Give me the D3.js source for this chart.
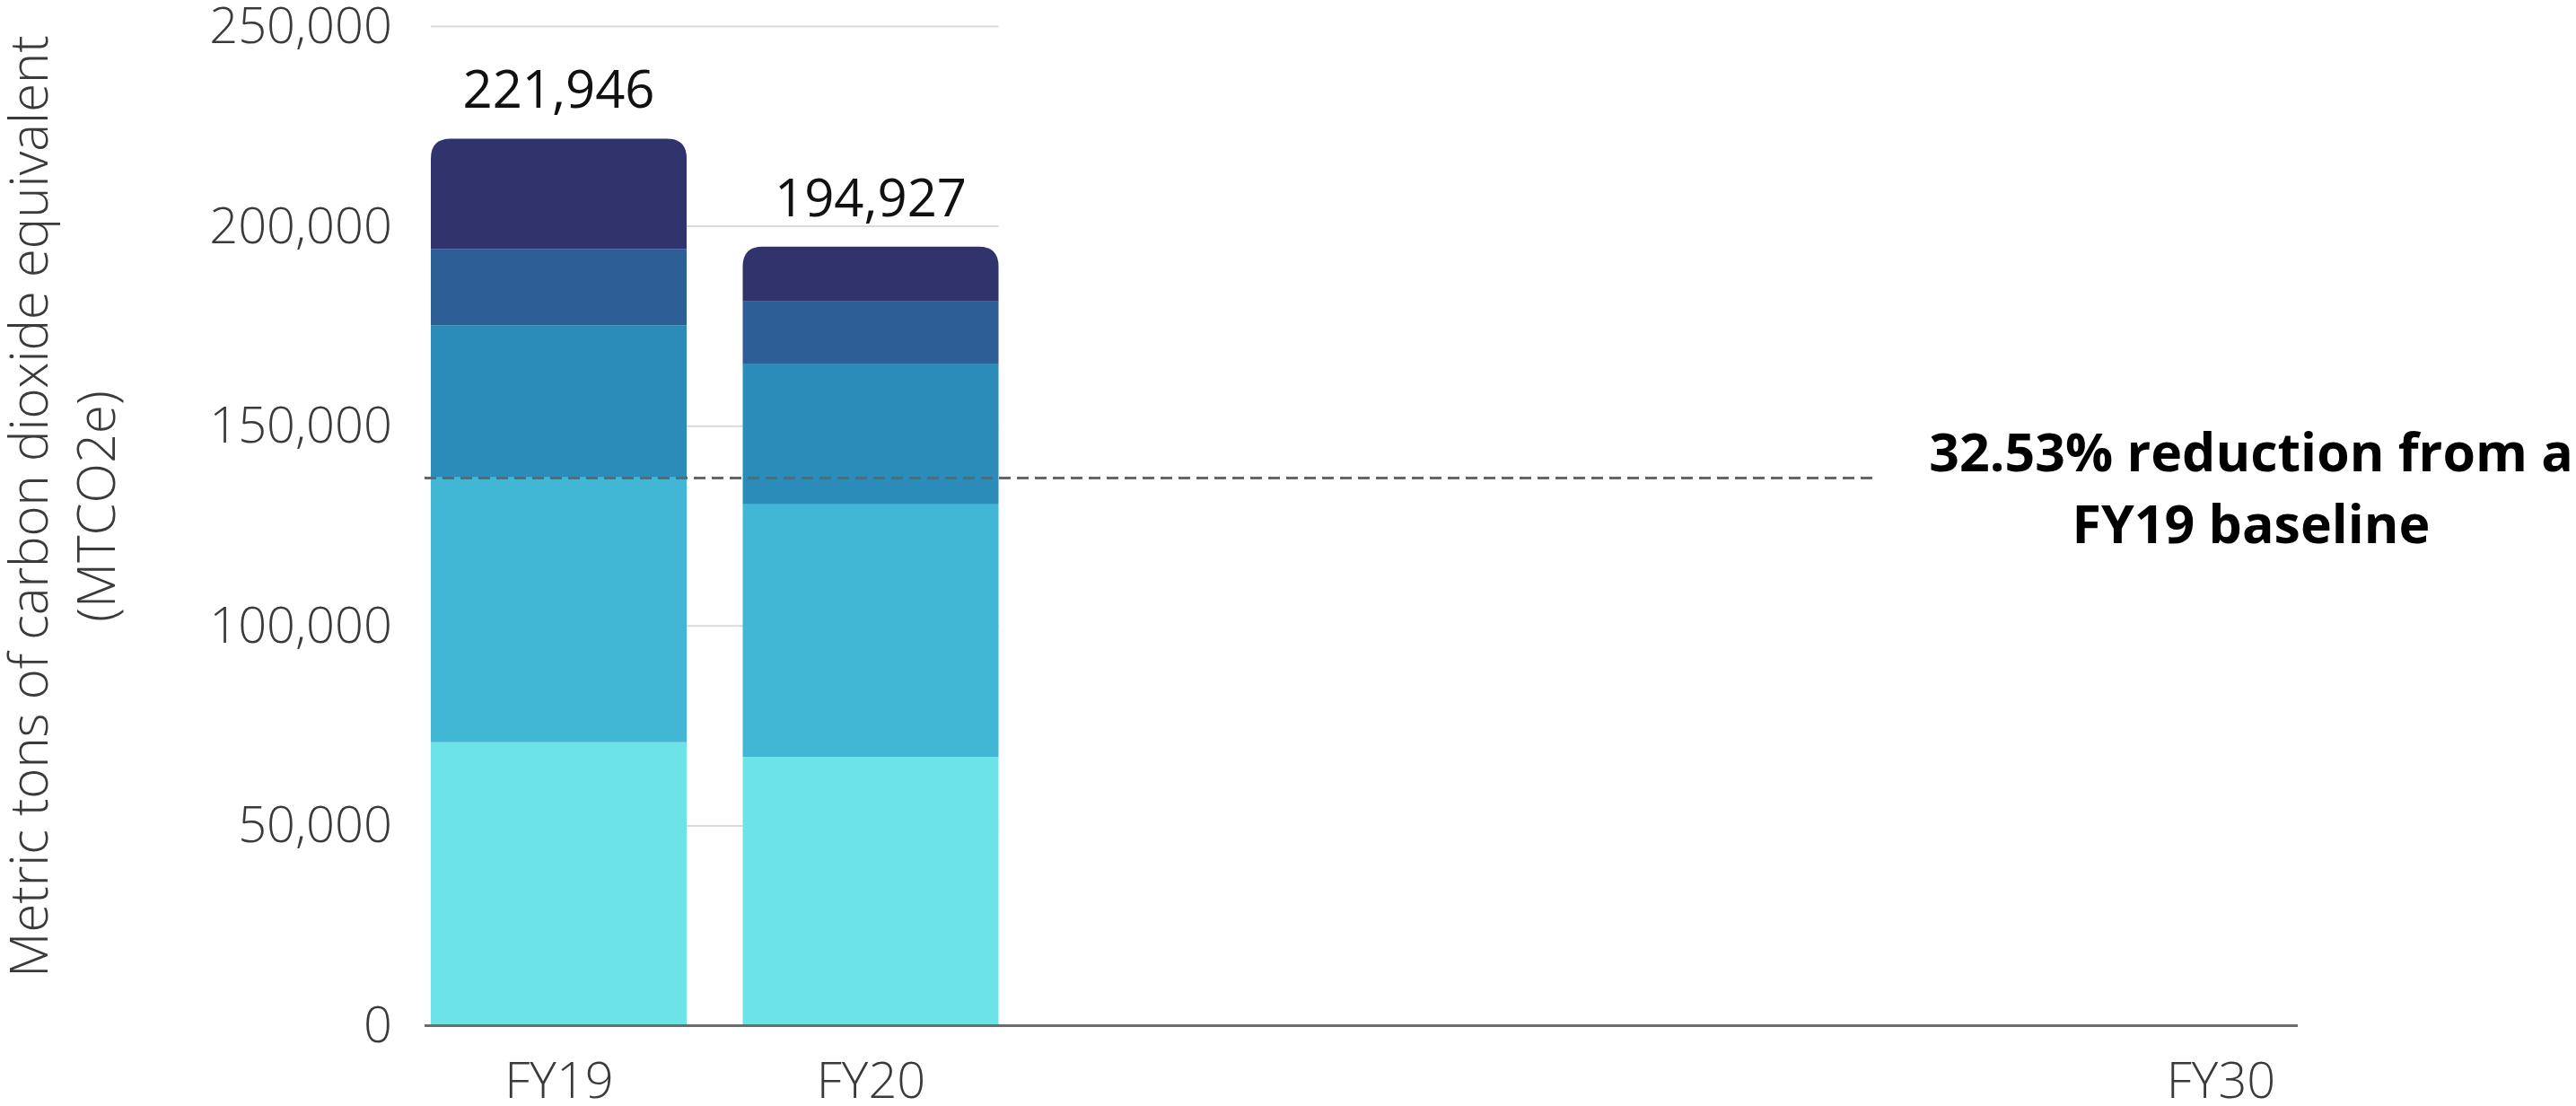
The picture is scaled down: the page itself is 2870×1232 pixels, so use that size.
<!DOCTYPE html>
<html>
<head>
<meta charset="utf-8">
<script src="https://cdn.jsdelivr.net/npm/d3@7"></script>
<style>
  body { margin: 0; background: #fff; }
  svg { display: block; font-family: "Open Sans", sans-serif; }
</style>
</head>
<body>
<svg id="chart" width="2870" height="1232"></svg>
<script>
// fiscal years on the x axis (FY30 has no bar yet)
const years = ["FY19", "FY20", "FY30"];
const yearNum = [19, 20, 30];
const barYears = ["FY19", "FY20"];

// stacked layers, bottom to top
const layerKeys = ["layer1", "layer2", "layer3", "layer4", "layer5"];
const layer1 = [70900, 67200];
const layer2 = [66300, 63250];
const layer3 = [38050, 35050];
const layer4 = [19100, 15700];
const layer5 = [27596, 13727];
const layerColors = ["#6ce4e7", "#41b6d5", "#2b8bb9", "#2e5e96", "#31346c"];

const yTicks = [0, 50000, 100000, 150000, 200000, 250000];
const targetValue = 137000;
const targetText = ["32.53% reduction from a", "FY19 baseline"];
const yTitle = ["Metric tons of carbon dioxide equivalent", "(MTCO2e)"];

// build rows for the stack
const rows = barYears.map((fy, i) => ({
  fy: fy,
  num: yearNum[i],
  layer1: layer1[i], layer2: layer2[i], layer3: layer3[i], layer4: layer4[i], layer5: layer5[i]
}));
const stacked = d3.stack().keys(layerKeys)(rows);

const svg = d3.select("#chart");

// scales
const y = d3.scaleLinear().domain([0, 250000]).range([1142.5, 29.5]);
const x = d3.scaleLinear().domain(yearNum).range([622.5, 970, 2474]);
const barW = 285;
const gridLeft = x(19) - barW / 2, gridRight = x(20) + barW / 2;

// gridlines
svg.append("g")
  .selectAll("line")
  .data(yTicks.filter(d => d > 0))
  .enter()
  .append("line")
    .attr("x1", gridLeft)
    .attr("x2", gridRight)
    .attr("y1", d => y(d))
    .attr("y2", d => y(d))
    .attr("stroke", "#d9d9d9")
    .attr("stroke-width", 2);

// y tick labels
const yAxis = d3.axisLeft(y).tickValues(yTicks).tickSize(0).tickPadding(0).tickFormat(d3.format(","));
svg.append("g")
  .attr("transform", "translate(437,0)")
  .call(yAxis)
  .call(g => g.select(".domain").remove())
  .selectAll("text")
    .attr("font-family", "Open Sans")
    .attr("font-weight", 300)
    .attr("font-size", 56)
    .attr("fill", "#3a3a3a");

// bars
function topRounded(x0, y0, w, h, r) {
  return `M${x0},${y0 + h}V${y0 + r}Q${x0},${y0} ${x0 + r},${y0}H${x0 + w - r}Q${x0 + w},${y0} ${x0 + w},${y0 + r}V${y0 + h}Z`;
}

stacked.forEach((layer, li) => {
  const isTop = li === stacked.length - 1;
  svg.append("g")
    .selectAll("path")
    .data(layer)
    .enter()
    .append("path")
      .attr("d", d => {
        const x0 = x(d.data.num) - barW / 2;
        const y0 = y(d[1]);
        const h = y(d[0]) - y(d[1]);
        return topRounded(x0, y0, barW, h, isTop ? 22 : 0);
      })
      .attr("fill", layerColors[li]);
});

// totals above bars
svg.append("g")
  .selectAll("text")
  .data(rows)
  .enter()
  .append("text")
    .attr("x", d => x(d.num))
    .attr("y", d => y(d3.sum(layerKeys, k => d[k])) - 34)
    .attr("text-anchor", "middle")
    .attr("font-size", 58)
    .attr("fill", "#111")
    .text(d => d3.format(",")(d3.sum(layerKeys, k => d[k])));

// x axis line
svg.append("line")
  .attr("x1", gridLeft - 7)
  .attr("x2", 2560)
  .attr("y1", y(0))
  .attr("y2", y(0))
  .attr("stroke", "#6b6b6b")
  .attr("stroke-width", 3);

const xAxis = d3.axisBottom(x).tickValues(yearNum).tickSize(0).tickPadding(41)
  .tickFormat((d, i) => years[i]);
svg.append("g")
  .attr("transform", `translate(0,${y(0)})`)
  .call(xAxis)
  .call(g => g.select(".domain").remove())
  .selectAll("text")
    .attr("font-family", "Open Sans")
    .attr("font-weight", 300)
    .attr("font-size", 56)
    .attr("fill", "#3a3a3a");

// target dashed line
svg.append("line")
  .attr("x1", gridLeft - 7)
  .attr("x2", 2089)
  .attr("y1", y(targetValue))
  .attr("y2", y(targetValue))
  .attr("stroke", "#666")
  .attr("stroke-width", 3)
  .attr("stroke-dasharray", "13 7");

svg.append("text")
  .attr("x", 2508)
  .attr("y", 525)
  .attr("text-anchor", "middle")
  .attr("font-weight", 700)
  .attr("font-size", 59)
  .attr("fill", "#000")
  .selectAll("tspan")
  .data(targetText)
  .enter()
  .append("tspan")
    .attr("x", 2508)
    .attr("dy", (d, i) => i === 0 ? 0 : 80)
    .text(d => d);

// y axis title
svg.append("text")
  .attr("transform", "translate(53,564) rotate(-90)")
  .attr("text-anchor", "middle")
  .attr("font-weight", 300)
  .attr("font-size", 58)
  .attr("fill", "#3a3a3a")
  .selectAll("tspan")
  .data(yTitle)
  .enter()
  .append("tspan")
    .attr("x", 0)
    .attr("dy", (d, i) => i === 0 ? 0 : 75)
    .text(d => d);
</script>
</body>
</html>
